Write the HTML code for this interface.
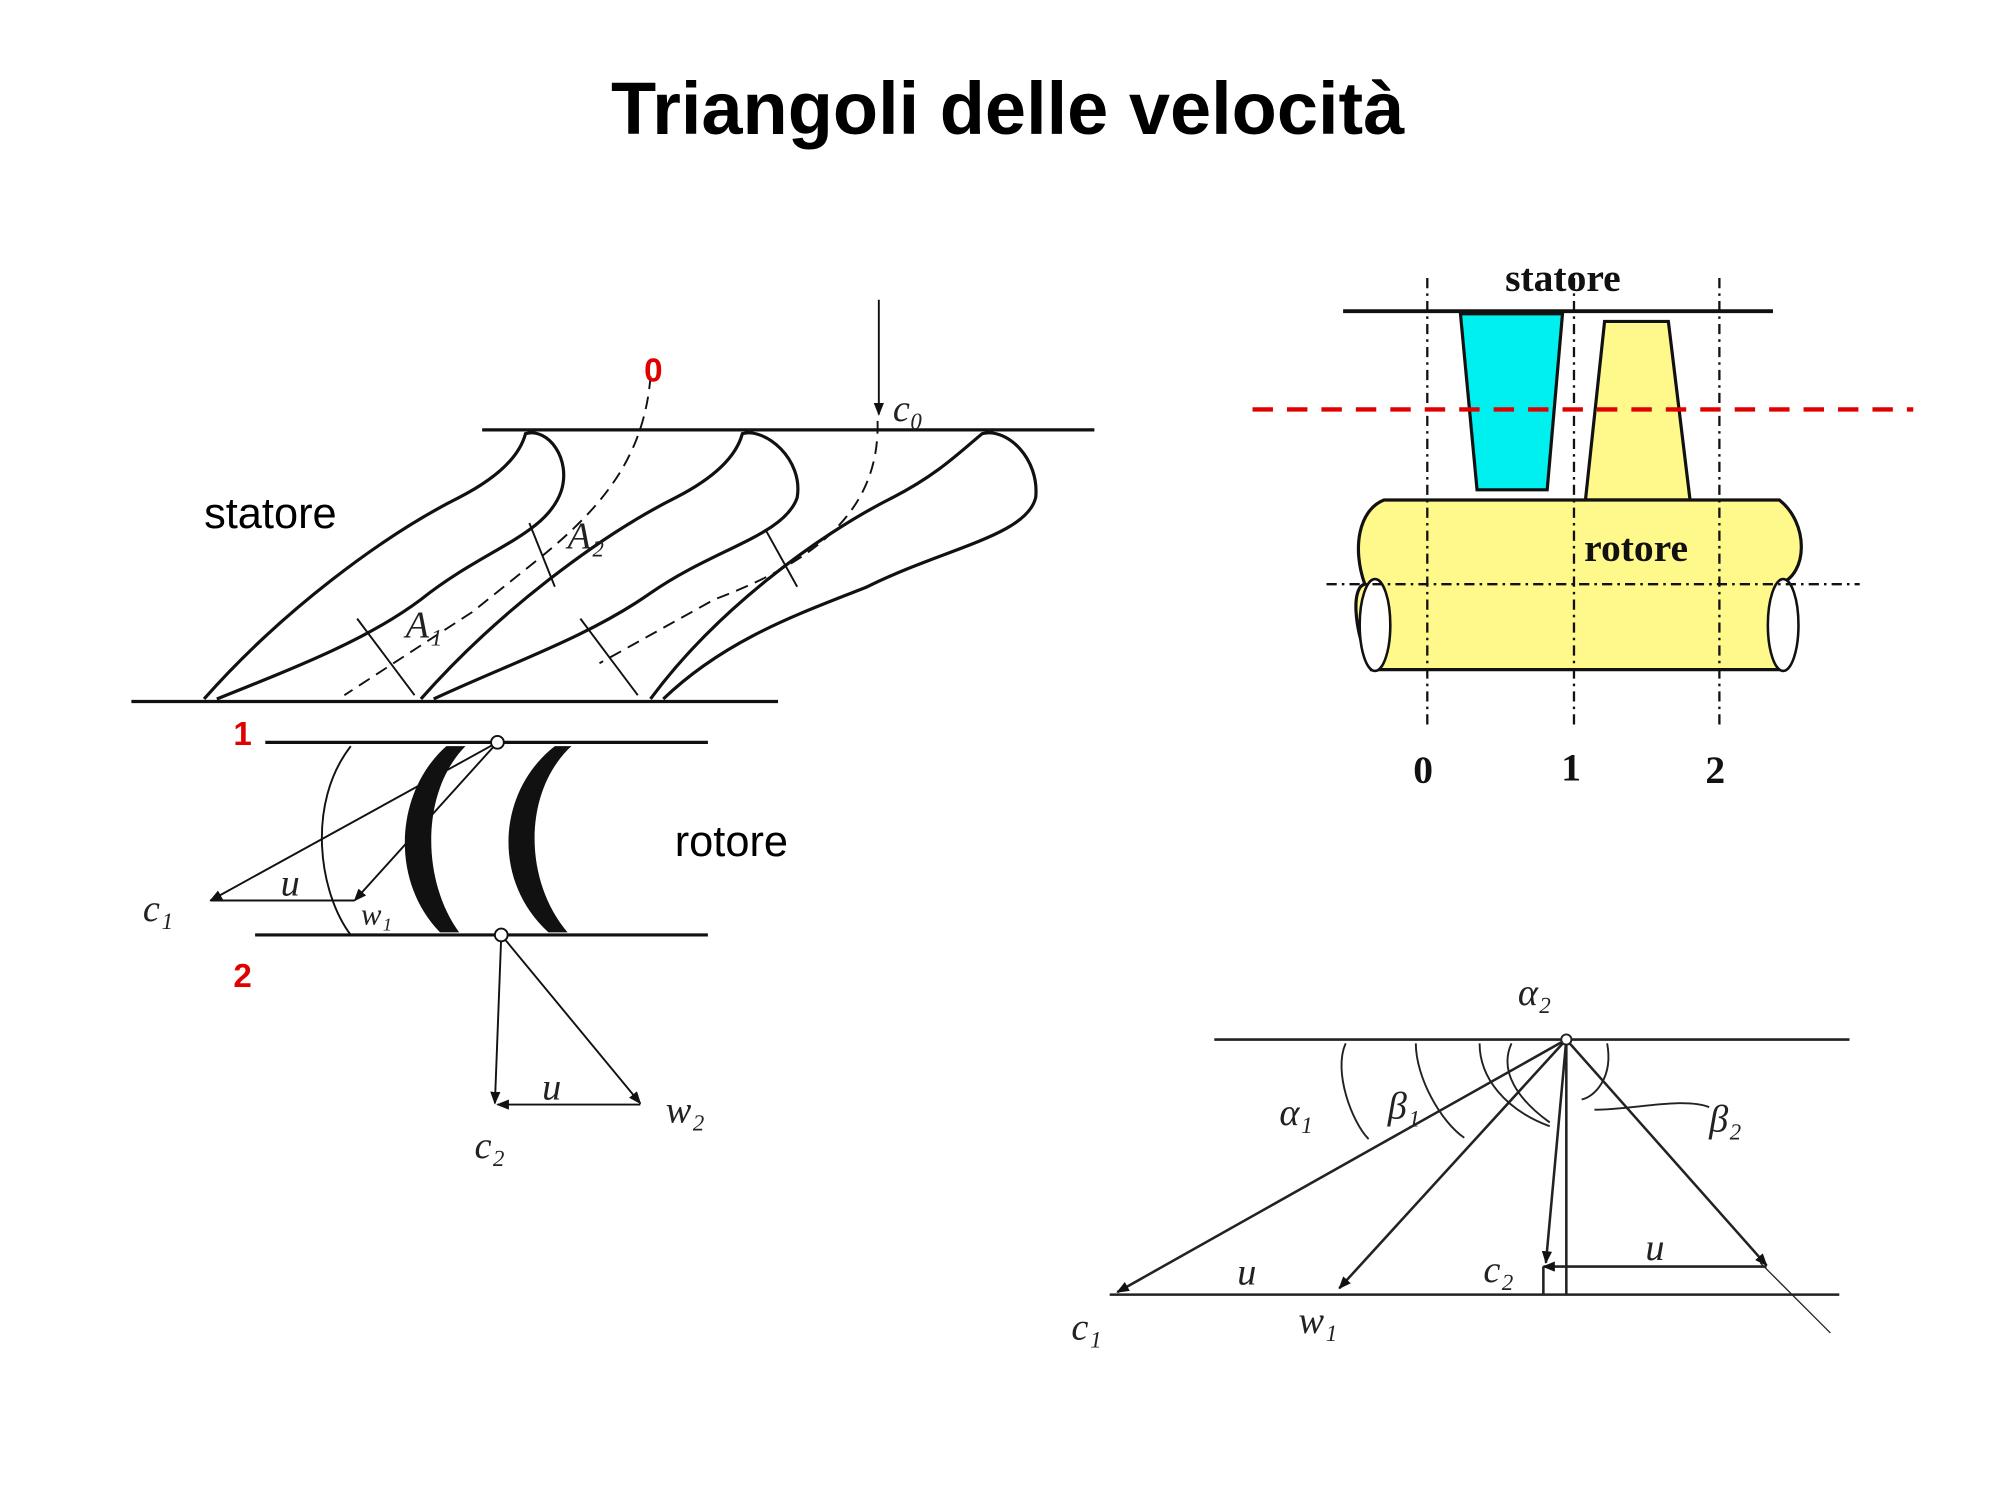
<!DOCTYPE html>
<html><head><meta charset="utf-8"><style>
html,body{margin:0;padding:0;background:#fff;width:2000px;height:1500px;overflow:hidden}
svg{display:block}
.sans{font-family:"Liberation Sans",sans-serif}
.ser{font-family:"Liberation Serif",serif}
.s{font-family:"Liberation Serif",serif;font-style:italic}
</style></head><body>
<svg width="2000" height="1500" viewBox="0 0 1568 1176" preserveAspectRatio="none">
<defs><marker id="a" markerWidth="10" markerHeight="8" refX="9" refY="4" orient="auto" markerUnits="userSpaceOnUse"><path d="M0,0 L10,4 L0,8 Z" fill="#111"/></marker></defs>
<text class="sans" x="790" y="105" font-size="58" font-weight="bold" text-anchor="middle">Triangoli delle velocità</text>

<!-- left diagram -->
<g stroke="#111" stroke-width="2.5" fill="none">
<line x1="378" y1="337" x2="858" y2="337"/>
<line x1="103" y1="550" x2="610" y2="550"/>
<line x1="208" y1="582" x2="555" y2="582"/>
<line x1="200" y1="733" x2="555" y2="733"/>
<line x1="689" y1="235" x2="689" y2="325" marker-end="url(#a)" stroke-width="1.5"/>
<path d="M160,548 C220,480 300,420 360,390 C395,372 408,355 412,340 C430,335 448,360 440,385 C428,420 380,430 330,470 C290,500 240,520 170,548"/>
<path d="M330,548 C390,480 470,420 530,390 C565,372 578,355 582,340 C600,335 630,360 625,390 C615,420 560,430 510,465 C460,500 400,520 340,548"/>
<path d="M510,548 C560,480 640,420 700,390 C735,372 752,355 770,340 C790,335 815,360 812,390 C805,420 740,430 680,460 C630,480 570,500 520,548"/>
<path d="M510,295 C505,360 470,400 420,440 L370,480 L270,545" stroke-dasharray="10,6" stroke-width="1.5"/>
<path d="M688,330 C690,400 640,440 560,470 L470,520" stroke-dasharray="10,6" stroke-width="1.5"/>
<line x1="415" y1="410" x2="435" y2="460" stroke-width="1.5"/>
<line x1="280" y1="485" x2="325" y2="545" stroke-width="1.5"/>
<line x1="600" y1="415" x2="625" y2="460" stroke-width="1.5"/>
<line x1="455" y1="485" x2="500" y2="545" stroke-width="1.5"/>
<path d="M275,585 C240,630 250,700 275,733" stroke-width="1.5"/>
<line x1="390" y1="582" x2="165" y2="706" stroke-width="1.5" marker-end="url(#a)"/>
<line x1="390" y1="582" x2="278" y2="706" stroke-width="1.5" marker-end="url(#a)"/>
<line x1="278" y1="706" x2="165" y2="706" stroke-width="1.5"/>
<line x1="393" y1="733" x2="388" y2="865" stroke-width="1.5" marker-end="url(#a)"/>
<line x1="393" y1="733" x2="502" y2="865" stroke-width="1.5" marker-end="url(#a)"/>
<line x1="502" y1="866" x2="390" y2="866" stroke-width="1.5" marker-end="url(#a)"/>
</g>
<path d="M350,585 C310,620 305,690 345,731 L360,731 C330,690 330,620 365,585 Z" fill="#111"/>
<path d="M435,585 C390,620 385,690 430,731 L445,731 C410,690 410,620 448,585 Z" fill="#111"/>
<circle cx="390" cy="582" r="5" fill="#fff" stroke="#111" stroke-width="1.5"/>
<circle cx="393" cy="733" r="5" fill="#fff" stroke="#111" stroke-width="1.5"/>
<text class="sans" x="160" y="414" font-size="34">statore</text>
<text class="sans" x="529" y="671" font-size="34">rotore</text>
<g class="sans" fill="#e00000" font-weight="bold" font-size="26"><text x="505" y="299">0</text><text x="183" y="584">1</text><text x="183" y="774">2</text></g>
<g class="s" font-size="30" fill="#222">
<text x="700" y="330">c₀</text><text x="445" y="430">A₂</text><text x="318" y="500">A₁</text>
<text x="112" y="722">c₁</text><text x="220" y="702">u</text><text x="283" y="725" font-size="24">w₁</text>
<text x="425" y="862">u</text><text x="372" y="908">c₂</text><text x="522" y="880">w₂</text></g>

<!-- top right -->
<line x1="1053" y1="244" x2="1390" y2="244" stroke="#111" stroke-width="3"/>
<path d="M1145,246 L1225,246 L1213,384 L1158,384 Z" fill="#00f0f0" stroke="#111" stroke-width="2.5"/>
<path d="M1258,252 L1308,252 L1325,392 L1243,392 Z" fill="#fff88a" stroke="#111" stroke-width="2.5"/>
<path d="M1085,392 L1395,392 C1418,410 1418,450 1395,458 L1395,525 L1075,525 C1060,490 1060,460 1070,458 C1060,430 1065,400 1085,392 Z" fill="#fff88a" stroke="#111" stroke-width="2.5"/>
<ellipse cx="1078" cy="490" rx="12" ry="36" fill="#fff" stroke="#111" stroke-width="2"/>
<ellipse cx="1398" cy="490" rx="12" ry="36" fill="#fff" stroke="#111" stroke-width="2"/>
<g stroke="#111" stroke-width="1.8" stroke-dasharray="8,4,2,4">
<line x1="1119" y1="218" x2="1119" y2="570"/><line x1="1234" y1="218" x2="1234" y2="570"/><line x1="1348" y1="218" x2="1348" y2="570"/>
<line x1="1040" y1="458" x2="1458" y2="458"/></g>
<line x1="982" y1="321" x2="1500" y2="321" stroke="#e00000" stroke-width="3.5" stroke-dasharray="16,11"/>
<g class="ser" font-weight="bold" font-size="31" fill="#111">
<text x="1180" y="228">statore</text><text x="1242" y="440">rotore</text>
<text x="1108" y="614">0</text><text x="1224" y="612">1</text><text x="1337" y="614">2</text></g>

<!-- bottom right -->
<g stroke="#222" stroke-width="2" fill="none">
<line x1="952" y1="815" x2="1450" y2="815"/>
<line x1="870" y1="1015" x2="1442" y2="1015"/>
<line x1="1228" y1="815" x2="876" y2="1013" marker-end="url(#a)"/>
<line x1="1228" y1="815" x2="1050" y2="1010" marker-end="url(#a)"/>
<line x1="1228" y1="815" x2="1212" y2="990" marker-end="url(#a)"/>
<line x1="1228" y1="815" x2="1228" y2="1015"/>
<line x1="1228" y1="815" x2="1385" y2="992" marker-end="url(#a)"/>
<line x1="1385" y1="993" x2="1210" y2="993" marker-end="url(#a)"/>
<line x1="1210" y1="993" x2="1210" y2="1015"/>
<line x1="1380" y1="990" x2="1435" y2="1045" stroke-width="1"/>
<path d="M1055,818 C1045,840 1060,880 1073,893" stroke-width="1.5"/>
<path d="M1110,818 C1110,845 1130,880 1148,892" stroke-width="1.5"/>
<path d="M1160,818 C1160,845 1180,870 1215,883" stroke-width="1.5"/>
<path d="M1185,818 C1175,840 1190,862 1215,880" stroke-width="1.5"/>
<path d="M1260,818 C1265,845 1250,860 1240,862" stroke-width="1.5"/>
<path d="M1250,870 C1280,870 1320,860 1340,868" stroke-width="1.5"/>
</g>
<circle cx="1228" cy="815" r="4" fill="#fff" stroke="#222" stroke-width="1.5"/>
<g class="s" font-size="30" fill="#222">
<text x="1190" y="788">α₂</text><text x="1003" y="882">α₁</text><text x="1088" y="877">β₁</text><text x="1340" y="887">β₂</text>
<text x="970" y="1007">u</text><text x="840" y="1050">c₁</text><text x="1018" y="1045">w₁</text>
<text x="1163" y="1005">c₂</text><text x="1290" y="988">u</text></g>
</svg>
</body></html>
